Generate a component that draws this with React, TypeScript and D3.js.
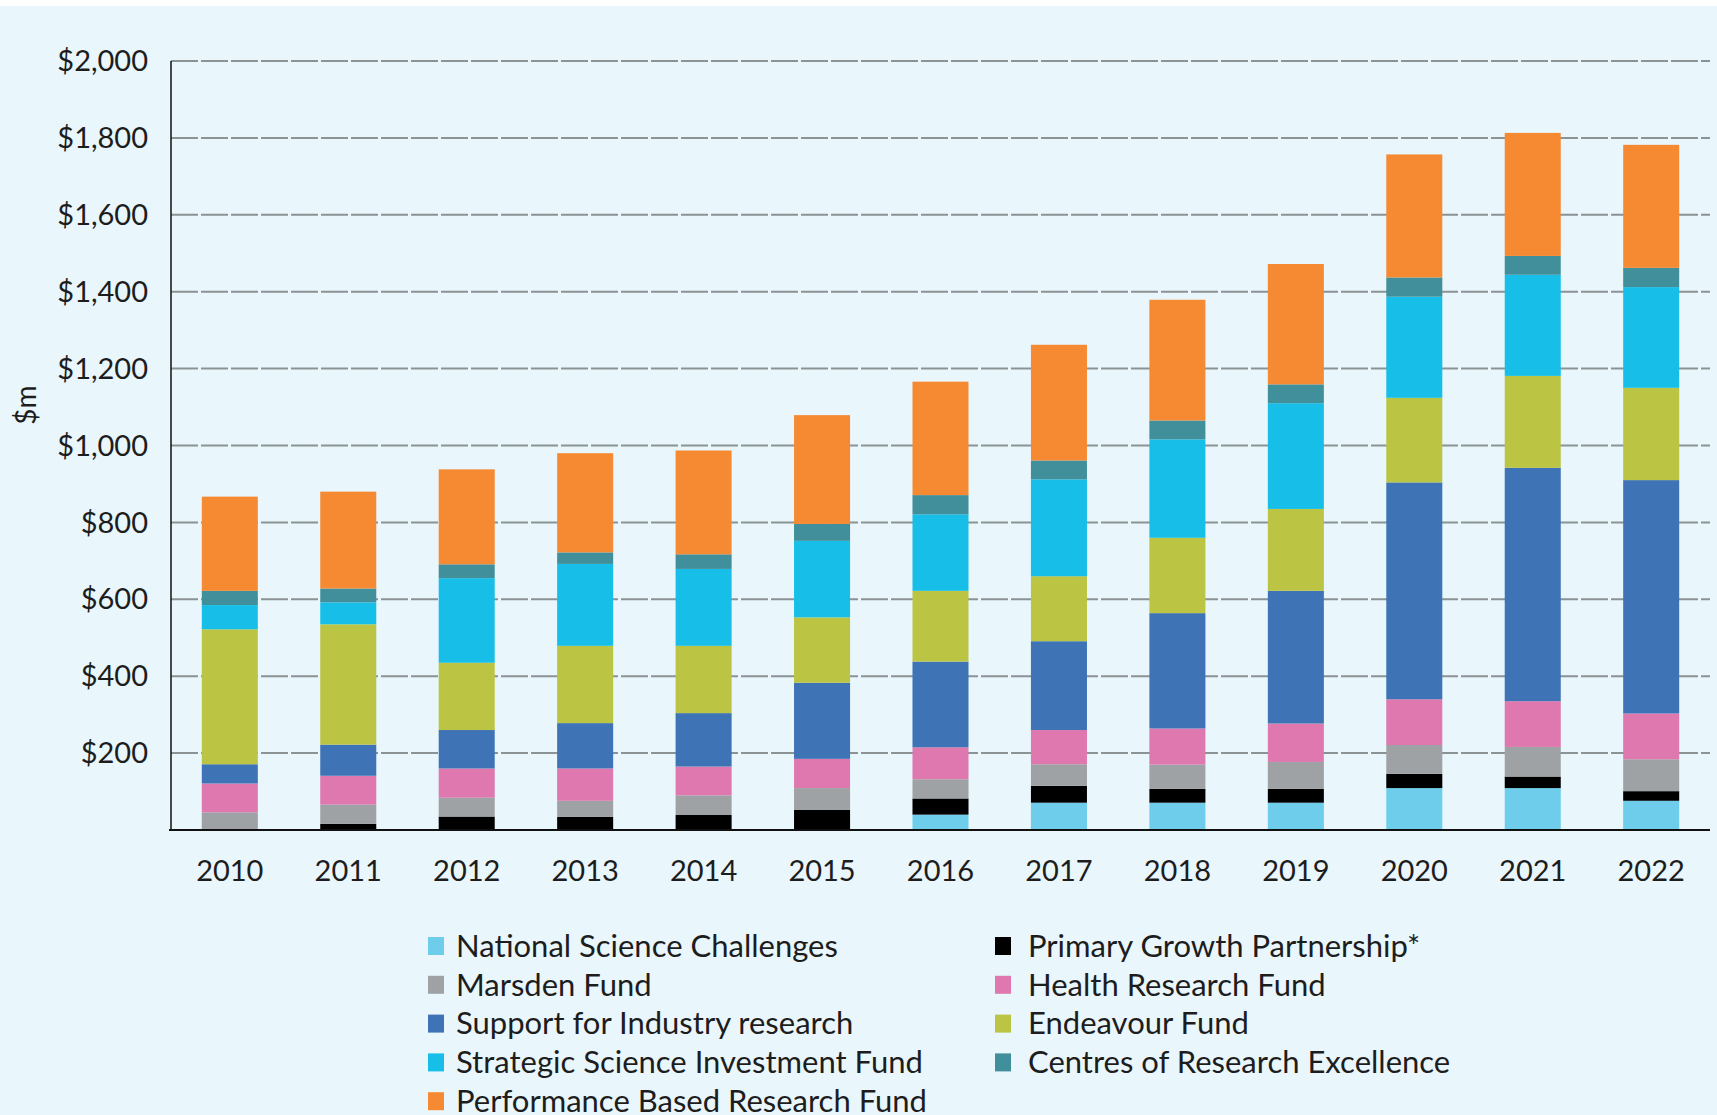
import React from "react";
import * as d3 from "d3";

const years = ["2010","2011","2012","2013","2014","2015","2016","2017","2018","2019","2020","2021","2022"];

const nationalScience = [0, 0, 0, 0, 0, 0, 40, 71, 71, 71, 109, 109, 76];
const primaryGrowth = [0, 16, 35, 34, 39, 52, 42, 44, 36, 36, 37, 30, 25];
const marsden = [46, 50, 49, 42, 51, 57, 50, 56, 63, 70, 75, 77, 83];
const healthResearch = [75, 75, 76, 84, 75, 76, 83, 89, 94, 100, 119, 119, 119];
const industryResearch = [50, 81, 100, 118, 139, 198, 223, 231, 300, 345, 564, 607, 607];
const endeavour = [351, 313, 175, 201, 175, 170, 184, 169, 196, 213, 220, 239, 240];
const strategicScience = [63, 57, 220, 213, 200, 199, 199, 252, 256, 275, 263, 263, 262];
const centresExcellence = [37, 36, 36, 30, 38, 44, 50, 49, 49, 49, 50, 49, 50];
const performanceBased = [245, 252, 247, 258, 270, 283, 295, 301, 314, 313, 320, 320, 320];

const yTicks = [200, 400, 600, 800, 1000, 1200, 1400, 1600, 1800, 2000];

const seriesDefs = [
  { key: "nsc", name: "National Science Challenges", values: nationalScience, color: "#6DCDEB" },
  { key: "pgp", name: "Primary Growth Partnership*", values: primaryGrowth, color: "#000000" },
  { key: "mars", name: "Marsden Fund", values: marsden, color: "#9EA2A5" },
  { key: "hrf", name: "Health Research Fund", values: healthResearch, color: "#DE78AE" },
  { key: "sir", name: "Support for Industry research", values: industryResearch, color: "#3E74B5" },
  { key: "end", name: "Endeavour Fund", values: endeavour, color: "#BBC443" },
  { key: "ssif", name: "Strategic Science Investment Fund", values: strategicScience, color: "#17BFE8" },
  { key: "core", name: "Centres of Research Excellence", values: centresExcellence, color: "#418F9A" },
  { key: "pbrf", name: "Performance Based Research Fund", values: performanceBased, color: "#F68A33" },
];

// legend layout order: left column then right column
const legendLeft = ["nsc", "mars", "sir", "ssif", "pbrf"];
const legendRight = ["pgp", "hrf", "end", "core"];

const W = 1717;
const H = 1115;
const FONT = "Lato, 'Open Sans', sans-serif";

export default function App() {
  const x = d3.scaleBand<string>().domain(years).range([171, 1710]).paddingInner(0.527).paddingOuter(0.26);
  const y = d3.scaleLinear().domain([0, 2000]).range([830, 61]);

  const table = years.map((yr, i) => {
    const row: any = { year: yr };
    seriesDefs.forEach((s) => (row[s.key] = s.values[i]));
    return row;
  });
  const stack = d3.stack<any>().keys(seriesDefs.map((s) => s.key));
  const layers = stack(table);

  const byKey: any = {};
  seriesDefs.forEach((s) => (byKey[s.key] = s));

  const legendRowY = (i: number) => 946 + i * 38.8;

  return (
    <svg width={W} height={H} style={{ position: "absolute", left: 0, top: 0 }} fontFamily={FONT}>
      <rect x={0} y={0} width={W} height={H} fill="#ffffff" />
      <rect x={0} y={6} width={W} height={H - 6} fill="#E9F6FC" />

      {/* gridlines */}
      {yTicks.map((t) => (
        <line key={t} x1={171} x2={1710} y1={y(t)} y2={y(t)} stroke="#8C9394" strokeWidth={2} strokeDasharray="27 3" />
      ))}

      {/* bars */}
      {layers.map((layer, li) => (
        <g key={layer.key} fill={seriesDefs[li].color}>
          {layer.map((d, i) =>
            d[1] - d[0] > 0 ? (
              <rect key={i} x={x(years[i])} width={x.bandwidth()} y={y(d[1])} height={y(d[0]) - y(d[1])} />
            ) : null
          )}
        </g>
      ))}

      {/* axes */}
      <line x1={171} x2={171} y1={61} y2={831} stroke="#111" strokeWidth={1.5} />
      <line x1={169} x2={1710} y1={830} y2={830} stroke="#111" strokeWidth={2} />

      {/* y tick labels */}
      {yTicks.map((t) => (
        <text key={t} x={148} y={y(t)} dy="0.35em" textAnchor="end" fontSize={29} fill="#1d1d1d">
          {d3.format("$,")(t)}
        </text>
      ))}

      {/* y label */}
      <text transform="translate(36,405) rotate(-90)" textAnchor="middle" fontSize={28} fill="#1d1d1d">
        $m
      </text>

      {/* x labels */}
      {years.map((yr) => (
        <text key={yr} x={(x(yr) as number) + x.bandwidth() / 2} y={871} dy="0.35em" textAnchor="middle" fontSize={29} fill="#1d1d1d">
          {yr}
        </text>
      ))}

      {/* legend */}
      {legendLeft.map((k, i) => (
        <g key={k}>
          <rect x={428} y={legendRowY(i) - 9} width={16} height={18} fill={byKey[k].color} />
          <text x={456} y={legendRowY(i)} dy="0.35em" fontSize={31} fill="#1d1d1d">
            {byKey[k].name}
          </text>
        </g>
      ))}
      {legendRight.map((k, i) => (
        <g key={k}>
          <rect x={995} y={legendRowY(i) - 9} width={16} height={18} fill={byKey[k].color} />
          <text x={1028} y={legendRowY(i)} dy="0.35em" fontSize={31} fill="#1d1d1d">
            {byKey[k].name}
          </text>
        </g>
      ))}
    </svg>
  );
}
